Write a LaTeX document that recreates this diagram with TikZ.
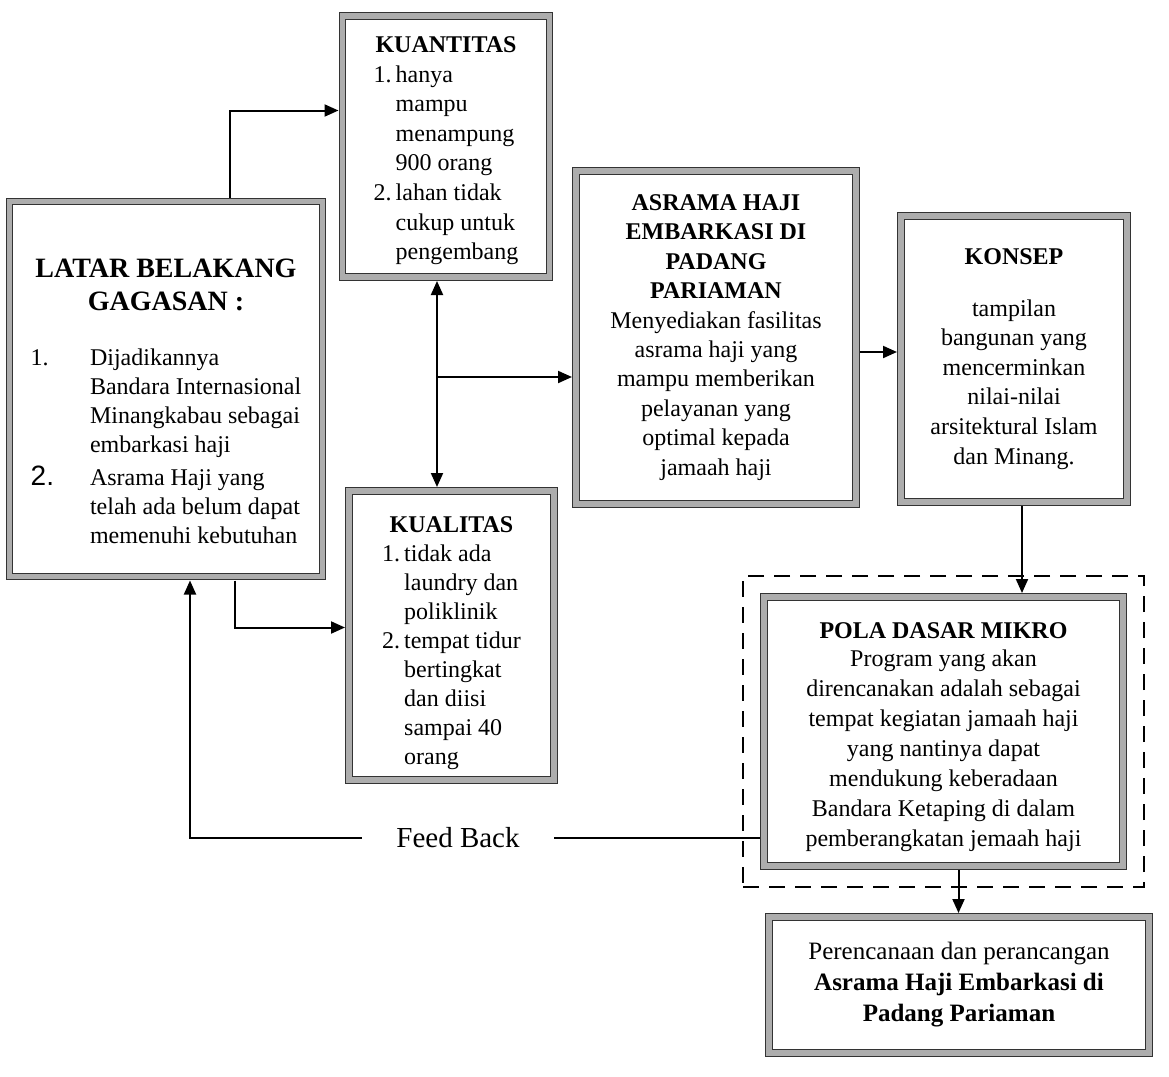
\documentclass[tikz,border=0pt]{standalone}
\usepackage{fontspec}
\setmainfont{Liberation Serif}
\setsansfont{Liberation Sans}
\usepackage{tikz}
\usetikzlibrary{calc,fit,arrows.meta}
\definecolor{colorband}{HTML}{ADADAD}
\tikzset{kotak/.style={draw=black!80, line width=0.5pt, double=colorband, double distance=2.8pt, fill=white, inner sep=0pt, outer sep=2pt, align=center, font=\fontsize{12}{14.5}\selectfont}}
\tikzset{grupbox/.style={draw, line width=1.4pt, dash pattern=on 8pt off 5pt, inner sep=8.5pt}}
\tikzset{
  edgepanah/.style={black, line width=1pt, -{Triangle[length=7pt,width=6pt]}},
  edgedua/.style={black, line width=1pt, {Triangle[length=7pt,width=6pt]}-{Triangle[length=7pt,width=6pt]}},
  edgegaris/.style={black, line width=1pt}
}
\newcommand\judul[1]{\textbf{#1}}
\newcommand\turun[1]{\rule{0pt}{#1}}

\begin{document}
\begin{tikzpicture}[x=0.5pt,y=-0.5pt]
\useasboundingbox (0,0) rectangle (1169,1077);

\node[kotak, minimum width=156.5pt, minimum height=187.5pt](latar) at (166,389)
{\turun{26pt}{\fontsize{14}{16}\selectfont\bfseries LATAR BELAKANG}\\[2pt]
 {\fontsize{14}{16}\selectfont\bfseries GAGASAN :}\\[13pt]
 \begin{tabular}[t]{@{}l@{\hspace{18pt}}l@{}}
 1. & Dijadikannya\\
    & Bandara Internasional\\
    & Minangkabau sebagai\\
    & embarkasi haji\\[2pt]
 {\sffamily\fontsize{14}{14}\selectfont 2.} & Asrama Haji yang\\
    & telah ada belum dapat\\
    & memenuhi kebutuhan
 \end{tabular}};

\node[kotak, minimum width=103.5pt, minimum height=130.5pt,
      font=\fontsize{12}{14.8}\selectfont](kuantitas) at (446,146.5)
{\turun{14pt}\judul{KUANTITAS}\\
 \begin{tabular}[t]{@{}l@{\,}l@{}}
 1. & hanya\\
    & mampu\\
    & menampung\\
    & 900 orang\\
 2. & lahan tidak\\
    & cukup untuk\\
    & pengembang
 \end{tabular}};

\node[kotak, minimum width=102.5pt, minimum height=144.5pt](kualitas) at (451.5,635.5)
{\turun{17pt}\judul{KUALITAS}\\
 \begin{tabular}[t]{@{}l@{\,}l@{}}
 1. & tidak ada\\
    & laundry dan\\
    & poliklinik\\
 2. & tempat tidur\\
    & bertingkat\\
    & dan diisi\\
    & sampai 40\\
    & orang
 \end{tabular}};

\node[kotak, minimum width=140pt, minimum height=166.5pt,
      font=\fontsize{12}{14.7}\selectfont](asrama) at (716,337.5)
{\judul{ASRAMA HAJI}\\ \judul{EMBARKASI DI}\\ \judul{PADANG}\\ \judul{PARIAMAN}\\
 Menyediakan fasilitas\\ asrama haji yang\\ mampu memberikan\\
 pelayanan yang\\ optimal kepada\\ jamaah haji};

\node[kotak, minimum width=113pt, minimum height=143pt,
      font=\fontsize{12}{14.8}\selectfont](konsep) at (1014,359)
{\judul{KONSEP}\\[11pt]
 tampilan\\ bangunan yang\\ mencerminkan\\ nilai-nilai\\
 arsitektural Islam\\ dan Minang.};

\node[kotak, minimum width=179.5pt, minimum height=134.5pt,
      font=\fontsize{12}{15}\selectfont](pola) at (943.5,731.5)
{\turun{14pt}\judul{POLA DASAR MIKRO}\\[-1pt]
 Program yang akan\\ direncanakan adalah sebagai\\ tempat kegiatan jamaah haji\\
 yang nantinya dapat\\ mendukung keberadaan\\ Bandara Ketaping di dalam\\
 pemberangkatan jemaah haji};

\node[grupbox, fit=(pola)](grup) {};

\node[kotak, minimum width=190pt, minimum height=68pt,
      font=\fontsize{12.5}{15.5}\selectfont](akhir) at (959,985)
{Perencanaan dan perancangan\\ \judul{Asrama Haji Embarkasi di}\\ \judul{Padang Pariaman}};

\node[inner xsep=17pt, font=\fontsize{14.5}{17}\selectfont](fb) at (458,838) {Feed Back};

% panah dari latar belakang
\coordinate (lu) at ($(latar.north)+(64,0)$);
\coordinate (ld) at ($(latar.south)+(69,0)$);
\draw[edgepanah] (lu) |- ($(kuantitas.west)+(0,-36)$);
\draw[edgepanah] (ld) |- ($(kualitas.west)+(0,-8)$);

% kuantitas <-> kualitas, lalu ke asrama
\coordinate (vtop) at ($(kuantitas.south)+(-9,0)$);
\coordinate (vbot) at (vtop |- kualitas.north);
\coordinate (cab) at ($(vtop)+(0,96)$);
\draw[edgedua] (vtop) -- (vbot);
\draw[edgepanah] (cab) -- (cab -| asrama.west);

\coordinate (ak) at ($(konsep.west)+(0,-7)$);
\draw[edgepanah] (ak -| asrama.east) -- (ak);

\coordinate (kb) at ($(konsep.south)+(8,0)$);
\draw[edgepanah] (kb) -- (kb |- pola.north);

\coordinate (pb) at ($(pola.south)+(15,0)$);
\draw[edgepanah] (pb) -- (pb |- akhir.north);

% feed back
\coordinate (fbup) at ($(latar.south)+(24,0)$);
\draw[edgegaris] (fb.east) -- (fb.east -| pola.west);
\draw[edgepanah] (fb.west) -| (fbup);
\end{tikzpicture}
\end{document}
